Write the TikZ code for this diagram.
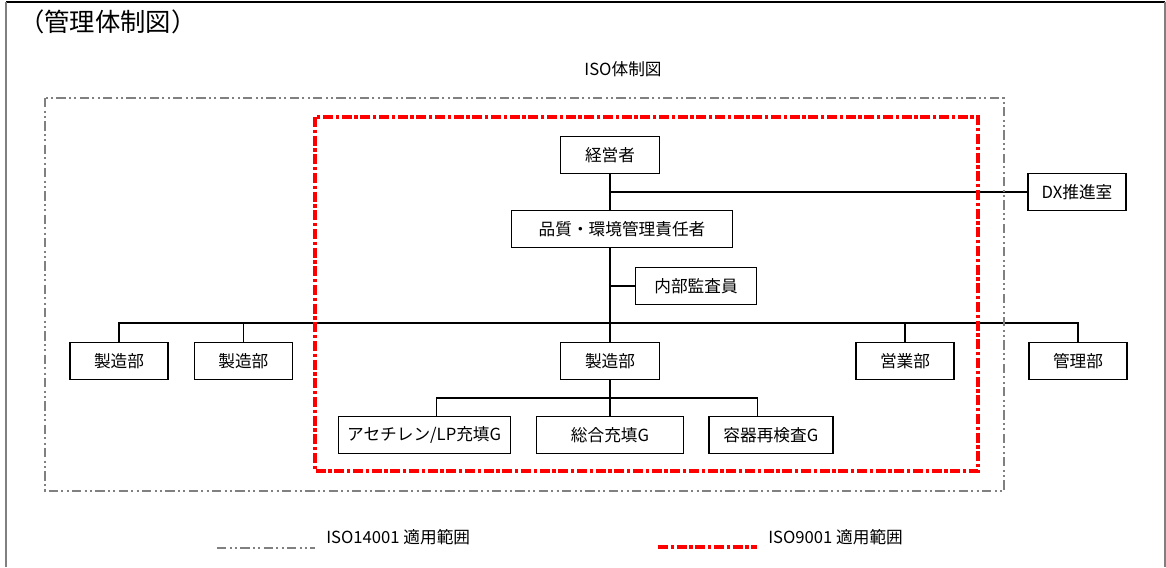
\documentclass[tikz,border=0pt]{standalone}
\usepackage{fontspec}
\setmainfont{Noto Sans CJK JP}
\usepackage{xcolor}
\usepackage{tikz}
\usetikzlibrary{positioning}

\newcommand{\pxu}{0.75pt}

\begin{document}
\begin{tikzpicture}[
    x=0.75pt, y=-0.75pt,
    orgbox/.style={rectangle, draw=black, line width=1pt, fill=white, minimum height=37*\pxu, inner sep=0pt, font=\fontsize{12.5}{14}\selectfont},
    link/.style={draw=black, line width=0.8pt},
    isoA/.style={draw=gray, line width=1.1pt, dash pattern=on 7pt off 2.5pt on 1.5pt off 2.5pt on 1.5pt off 2.5pt},
    isoB/.style={draw=red, line width=2.6pt, dash pattern=on 7.5pt off 2pt on 2.5pt off 2pt},
    note/.style={inner sep=0pt, font=\fontsize{12.5}{14}\selectfont},
]
\useasboundingbox (0,0) rectangle (1166,567);
% page frame
\draw[black, line width=1.2pt] (6,2) -- (1165,2);
\draw[gray, line width=1.5pt] (6,2) -- (6,567);
\draw[gray, line width=1.5pt] (1165,2) -- (1165,567);

\node[inner sep=0pt, anchor=west, font=\fontsize{19}{22}\selectfont](title) at (19,22){（管理体制図）};
\node[note](isoTitle) at (623,69){ISO体制図};

% boxes
\node[orgbox, minimum width=99*\pxu](ceo) at (610,155){経営者};
\node[orgbox, minimum width=221*\pxu](qmr) at (622,229){品質・環境管理責任者};
\node[orgbox, minimum width=121*\pxu](audit) at (696,286){内部監査員};
\node[orgbox, minimum width=98*\pxu](dx) at (1077,192){DX推進室};
\node[orgbox, minimum width=98*\pxu](mfgA) at (119,361){製造部};
\node[orgbox, minimum width=98*\pxu](mfgB)[right = 18.75pt of mfgA]{製造部};
\node[orgbox, minimum width=99*\pxu](mfgC) at (610,361){製造部};
\node[orgbox, minimum width=98*\pxu](sales) at (905,361){営業部};
\node[orgbox, minimum width=98*\pxu](admin) at (1078,361){管理部};
\node[orgbox, minimum width=147*\pxu](gFill) at (610,435){総合充填G};
\node[orgbox, minimum width=172*\pxu](gAcet)[left = 18.75pt of gFill]{アセチレン/LP充填G};
\node[orgbox, minimum width=124*\pxu](gInsp)[right = 18pt of gFill]{容器再検査G};
\coordinate (busTop) at (610,323);
\coordinate (busLow) at (610,398);

% connectors
\draw[link] (ceo.south) -- (ceo.south |- qmr.north);
\draw[link] (ceo.south |- qmr.south) -- (mfgC.north);
\draw[link] (ceo.south |- dx.west) -- (dx.west);
\draw[link] (ceo.south |- audit.west) -- (audit.west);
\draw[link] (mfgA.north) |- (busTop) -| (admin.north);
\draw[link] (mfgB.north) -- (mfgB.north |- busTop);
\draw[link] (sales.north) -- (sales.north |- busTop);
\draw[link] ([xshift=9pt]gAcet.north) |- (busLow) -| ([xshift=-9.75pt]gInsp.north);
\draw[link] (mfgC.south) -- (gFill.north);

% scopes
\draw[isoA] (45,98) rectangle (1004,491);
\draw[isoB] (315,117) rectangle (978,471);

% legend
\draw[isoA] (217,548) -- (315,548);
\node[note, anchor=west](legA) at (326,537){ISO14001 適用範囲};
\draw[isoB] (658,547) -- (757,547);
\node[note, anchor=west](legB) at (768,537){ISO9001 適用範囲};
\end{tikzpicture}
\end{document}
